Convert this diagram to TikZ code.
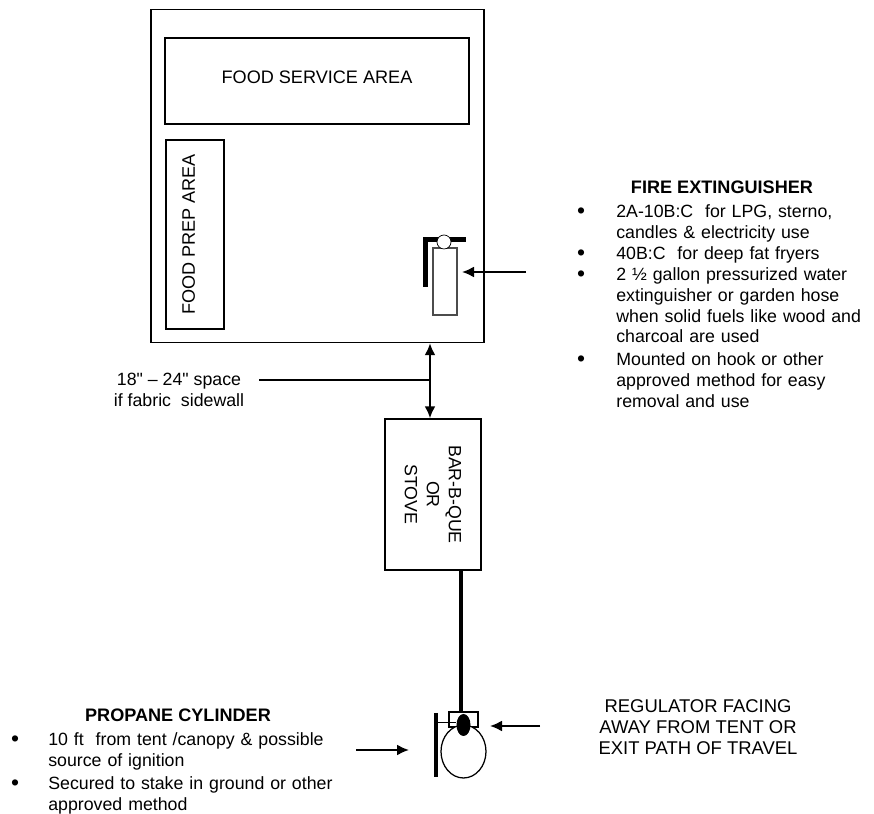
\documentclass[tikz,border=0pt]{standalone}
\usepackage{fontspec}
\setmainfont{Liberation Sans}
\newfontfamily\plainfont{Liberation Sans}
\usetikzlibrary{arrows.meta,shapes.geometric}
\tikzset{
  flowarrow/.style={-{Latex[length=2.4mm,width=2.2mm]}, line width=0.4mm},
  gaparrow/.style={{Latex[length=2.4mm,width=2.2mm]}-{Latex[length=2.4mm,width=2.2mm]}, line width=0.5mm},
  areabox/.style={draw, line width=0.25mm, align=center, inner sep=0pt},
  lbl/.style={align=center, inner sep=0pt},
  headlbl/.style={inner sep=0pt, font=\fontsize{10.3}{12}\selectfont\bfseries},
  listtext/.style={align=left, anchor=north west, inner sep=0pt, text width=#1},
  listtext/.default=5.1cm,
  bullet/.style={inner sep=0pt, anchor=base, font=\fontsize{13}{13}\selectfont},
  heavy/.style={line width=0.09cm}
}

\begin{document}
\begin{tikzpicture}[every node/.style={font=\fontsize{10.1}{11.9}\selectfont}]
  \useasboundingbox (0,0) rectangle (17.48,16.28);
  % tent
  \node[areabox, minimum width=6.66cm, minimum height=6.66cm] (tent) at (6.35,12.76) {};
  \node[areabox, minimum width=6.08cm, minimum height=1.72cm, text depth=0.16cm, font=\fontsize{10.3}{12}\selectfont] (service) at (6.34,14.66) {FOOD SERVICE AREA};
  \node[areabox, rotate=90, minimum width=3.78cm, minimum height=1.16cm, text height=0pt, text depth=0pt, font=\fontsize{10.3}{12}\selectfont] (prep) at (3.90,11.59) {FOOD PREP AREA};
  \node[areabox, rotate=-90, minimum width=3.02cm, minimum height=1.92cm, font=\fontsize{10.1}{12.5}\selectfont] (bbq) at (8.66,6.39) {BAR-B-QUE\\OR\\STOVE};
  % extinguisher
  \draw[line width=0.1cm] (8.50,10.54) -- (8.50,11.48) -- (9.32,11.48);
  \node[draw=black!70, line width=0.3mm, fill=white, inner sep=0pt, minimum width=0.48cm, minimum height=1.34cm] (body) at (8.90,10.65) {};
  \node[draw, circle, fill=white, inner sep=0pt, minimum size=0.28cm] (gauge) at (8.88,11.44) {};
  % cylinder
  \coordinate (bartop) at (8.72,2.02);
  \coordinate (barbot) at (8.72,0.74);
  \coordinate (hose) at (9.22,2.06);
  \draw[heavy] (bartop) -- (barbot);
  \node[draw, line width=0.25mm, inner sep=0pt, minimum width=0.58cm, minimum height=0.30cm] (regulator) at (9.27,1.89) {};
  \node[draw, ellipse, fill=white, line width=0.25mm, inner sep=0pt, minimum width=0.90cm, minimum height=1.06cm] (cylinder) at (9.27,1.25) {};
  \node[ellipse, fill=black, inner sep=0pt, minimum width=0.28cm, minimum height=0.44cm] (valve) at (9.27,1.78) {};
  \draw[line width=0.25mm] (valve.160 -| bartop) -- (valve.160);
  \draw[heavy] (hose |- bbq.east) -- (hose);
  % gap and arrows
  \coordinate (gapmid) at (8.60,8.68);
  \coordinate (gapstart) at (5.18,8.68);
  \coordinate (fireend) at (10.52,10.84);
  \coordinate (firetip) at (9.24,10.84);
  \coordinate (propstart) at (7.12,1.28);
  \coordinate (proptip) at (8.18,1.28);
  \coordinate (regstart) at (10.80,1.76);
  \coordinate (regtip) at (9.80,1.76);
  \draw[gaparrow] (gapmid |- tent.south) -- (gapmid |- bbq.west);
  \draw[line width=0.5mm] (gapstart) -- (gapmid);
  \draw[flowarrow] (fireend) -- (firetip);
  \draw[flowarrow] (propstart) -- (proptip);
  \draw[flowarrow] (regstart) -- (regtip);
  % labels
  \node[lbl, font=\fontsize{10.1}{11.9}\selectfont\plainfont] (space) at (3.58,8.48) {18" – 24" space\\if fabric\ \ sidewall};
  \node[lbl, font=\fontsize{10.5}{11.9}\selectfont] (regnote) at (13.96,1.74) {REGULATOR FACING\\AWAY FROM TENT OR\\EXIT PATH OF TRAVEL};
  \node[headlbl] (firehead) at (14.44,12.54) {FIRE EXTINGUISHER};
  \node[bullet] (fb1) at (11.62,11.91) {\textbullet};
  \node[listtext] (f1) at (12.32,12.20) {2A-10B:C\ \ for LPG, sterno,\\candles \& electricity use};
  \node[bullet] (fb2) at (11.62,11.07) {\textbullet};
  \node[listtext] (f2) at (12.32,11.36) {40B:C\ \ for deep fat fryers};
  \node[bullet] (fb3) at (11.62,10.65) {\textbullet};
  \node[listtext] (f3) at (12.32,10.94) {2 ½ gallon pressurized water\\extinguisher or garden hose\\when solid fuels like wood and\\charcoal are used};
  \node[bullet] (fb4) at (11.62,8.95) {\textbullet};
  \node[listtext] (f4) at (12.32,9.24) {Mounted on hook or other\\approved method for easy\\removal and use};
  \node[headlbl] (prophead) at (3.56,1.98) {PROPANE CYLINDER};
  \node[bullet] (pb1) at (0.30,1.35) {\textbullet};
  \node[listtext=5.8cm] (p1) at (0.96,1.64) {10 ft\ \ from tent /canopy \& possible\\source of ignition};
  \node[bullet] (pb2) at (0.30,0.47) {\textbullet};
  \node[listtext=5.8cm] (p2) at (0.96,0.76) {Secured to stake in ground or other\\approved method};
\end{tikzpicture}
\end{document}
